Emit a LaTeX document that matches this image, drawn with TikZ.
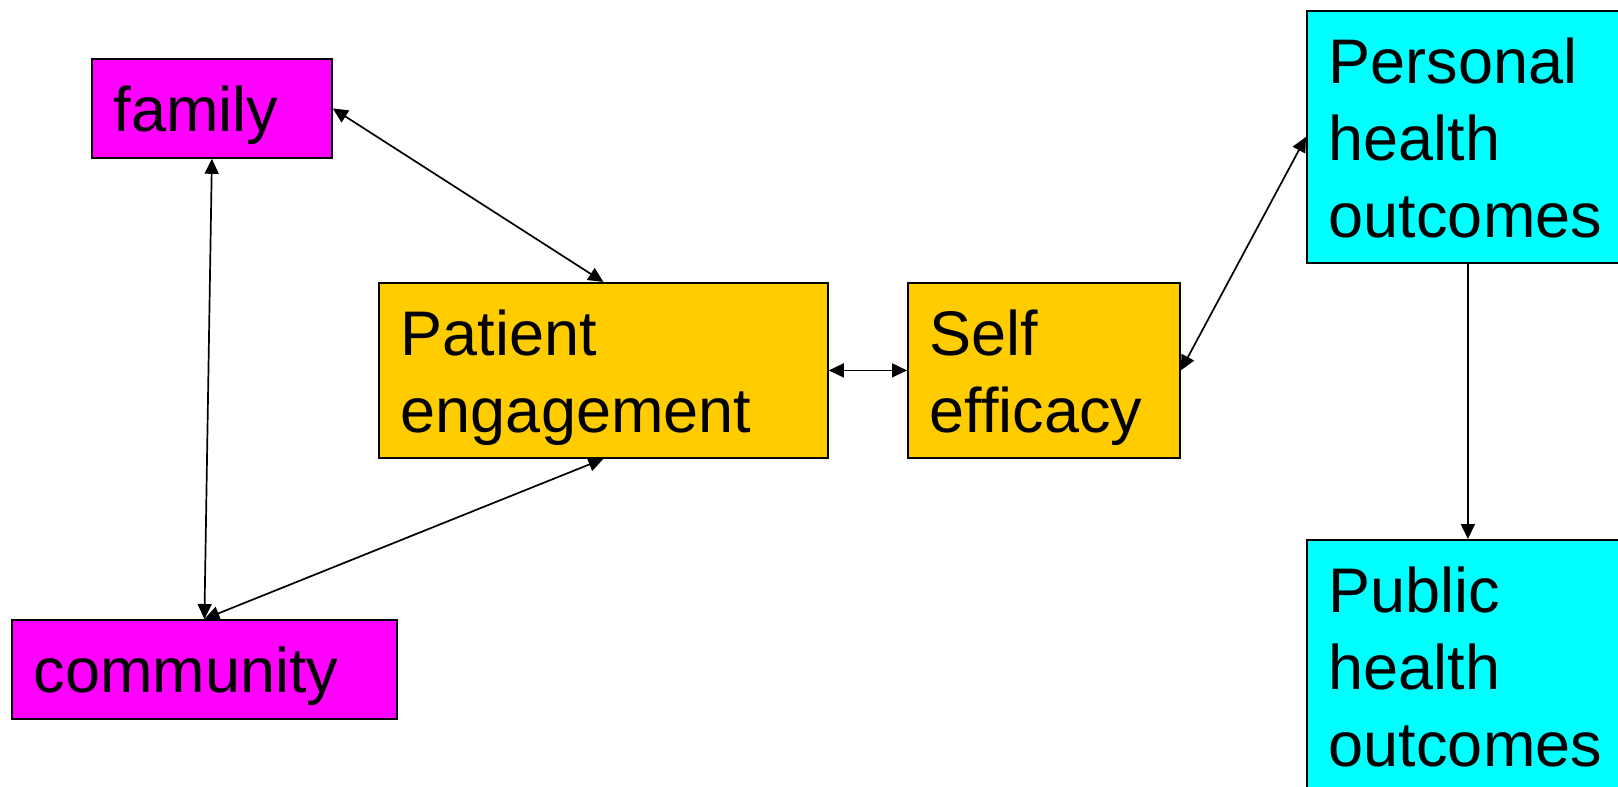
\documentclass[tikz,border=0pt]{standalone}
\usepackage{fontspec}
\setmainfont{Liberation Sans}
\usetikzlibrary{arrows.meta}

\definecolor{boxmagenta}{RGB}{255,0,255}
\definecolor{boxorange}{RGB}{255,204,0}
\definecolor{boxcyan}{RGB}{0,255,255}

\tikzset{
  box/.style={draw=black, line width=0.9pt, anchor=north west,
    inner xsep=11pt, inner ysep=0pt, align=left,
    font=\fontsize{31.5}{38.3}\selectfont, text height=36.5pt},
  link/.style={line width=0.85pt, {Triangle[length=7.5pt,width=7pt]}-{Triangle[length=7.5pt,width=7pt]}},
  onelink/.style={line width=0.85pt, -{Triangle[length=7.5pt,width=7pt]}}
}

\begin{document}
\begin{tikzpicture}[x=0.5pt, y=-0.5pt]
      \useasboundingbox (0,0) rectangle (1618,787);

      \node[box, fill=boxmagenta, text width=98pt, text depth=13pt] (fam) at (91,58) {family};
      \node[box, fill=boxmagenta, text width=170.5pt, text depth=13pt] (com) at (11,619) {community};
      \node[box, fill=boxorange, text width=202.5pt, text depth=51pt] (pat) at (378,282) {Patient\\engagement};
      \node[box, fill=boxorange, text width=114pt, text depth=51pt] (self) at (907,282) {Self\\efficacy};
      \node[box, fill=boxcyan, text width=139pt, text depth=89.5pt] (pers) at (1306,10) {Personal\\health\\outcomes};
      \node[box, fill=boxcyan, text width=139pt, text depth=89.5pt] (pub) at (1306,539) {Public\\health\\outcomes};

      \path[link] (fam.east) edge (pat.north);
      \path[link] (fam.south) edge (com.north);
      \path[link] (com.north) edge (pat.south);
      \path[link] (pat.east) edge (self.west);
      \path[link] (self.east) edge (pers.west);
      \path[onelink] (pers.south) edge (pub.north);
    \end{tikzpicture}
\end{document}
